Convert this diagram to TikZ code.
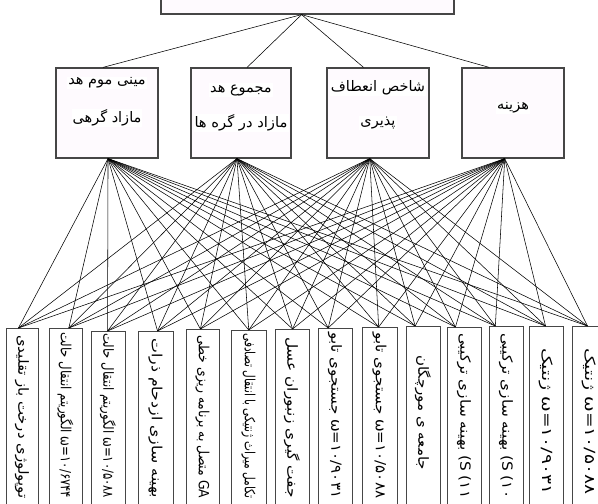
\documentclass[tikz,border=0pt]{standalone}
\usepackage{fontspec}
\usepackage{graphicx}
\newfontfamily\arabicfont[Script=Arabic]{DejaVu Sans}
\TeXXeTstate=1
\usetikzlibrary{calc}
\definecolor{boxgray}{RGB}{70,70,70}
\definecolor{boxfill}{RGB}{254,250,254}
\newcommand\spanto[2]{\resizebox{#1}{\height}{#2}}
\begin{document}
\begin{tikzpicture}[x=1pt,y=-1pt,
  box/.style={draw=boxgray, line width=1.2pt, fill=boxfill, inner sep=0pt},
  lowbox/.style={draw=boxgray, line width=1.2pt, fill=white, inner sep=0pt},
  midtxt/.style={inner sep=1pt, fill=white, font=\arabicfont\fontsize{14.5}{16}\selectfont},
  lowtxt/.style={inner sep=0pt, rotate=-90, anchor=west, font=\arabicfont\fontsize{14}{16}\selectfont},
  conn/.style={line width=0.55pt, black}]
\useasboundingbox (0,0) rectangle (598,504);
\clip (0,0) rectangle (598,504);
% top box
\node[box, minimum width=293pt, minimum height=40pt] (T) at (307.5,-6) {};
% middle boxes
\node[box, minimum width=102pt, minimum height=90pt] (A) at (107,113) {};
\node[box, minimum width=100pt, minimum height=90pt] (B) at (241,113) {};
\node[box, minimum width=102pt, minimum height=90pt] (C) at (378,113) {};
\node[box, minimum width=102pt, minimum height=90pt] (D) at (513,113) {};
\node[midtxt] (A1) at (107,83) {\beginR مینی موم هد\endR};
\node[midtxt] (A2) at (107,118) {\beginR مازاد گرهی\endR};
\node[midtxt] (B1) at (241,90) {\beginR مجموع هد\endR};
\node[midtxt] (B2) at (241,123) {\spanto{93pt}{\beginR مازاد در گره ها\endR}};
\node[midtxt] (C1) at (378,88) {\beginR شاخص انعطاف\endR};
\node[midtxt] (C2) at (378,123) {\beginR پذیری\endR};
\node[midtxt] (D1) at (513,108) {\beginR هزینه\endR};
% top connectors
\coordinate (apex) at ($(T.south west)!0.48!(T.south east)$);
\draw[conn] (apex) -- ($(A.north west)!0.46!(A.north east)$);
\draw[conn] (apex) -- ($(B.north west)!0.56!(B.north east)$);
\draw[conn] (apex) -- ($(C.north west)!0.36!(C.north east)$);
\draw[conn] (apex) -- ($(D.north west)!0.27!(D.north east)$);
% bottom boxes
\foreach \i/\l/\r/\t/\f in {1/6/38/328/0.375, 2/49/82/328/0.58, 3/91/125/331/0.47,
  4/138/173/331/0.54, 5/186/219/329/0.42, 6/231/266/330/0.49, 7/275/309/329/0.5,
  8/318/352/328/0.29, 9/362/397/327/0.46, 10/406/440/326/0.26, 11/447/481/327/0.24,
  12/489/523/326/0.18, 13/529/563/326/0.47, 14/572/606/326/0.44} {
  \pgfmathsetmacro{\w}{\r-\l}
  \node[lowbox, minimum width=\w pt, minimum height=220pt, anchor=north west] (L\i) at (\l,\t) {};
  \coordinate (b\i) at ($(L\i.north west)!\f!(L\i.north east)$);
}
% lower connectors
\foreach \m/\fm in {A/0.51, B/0.46, C/0.42, D/0.42} {
  \coordinate (s\m) at ($(\m.south west)!\fm!(\m.south east)$);
  \foreach \i in {1,...,14} {
    \draw[conn] (s\m) -- (b\i);
  }
}
% bottom texts
\node[lowtxt] (t1) at (22,335) {\spanto{163pt}{\beginR توپولوژی درخت باز تقلیدی\endR}};
\node[lowtxt] (t2) at (65.5,332) {\spanto{166pt}{\beginR\beginL ω=۱۰/۶۷۴۴\endL{} الگوریتم انتقال حالت\endR}};
\node[lowtxt] (t3) at (108,333) {\spanto{165pt}{\beginR\beginL ω=۱۰/۵۰۸۸\endL{} الگوریتم انتقال حالت\endR}};
\node[lowtxt] (t4) at (155.5,338) {\spanto{160pt}{\beginR بهینه سازی ازدحام ذرات\endR}};
\node[lowtxt] (t5) at (202.5,335) {\spanto{163pt}{\beginR\beginL GA\endL{} متصل به برنامه ریزی خطی\endR}};
\node[lowtxt] (t6) at (248.5,333) {\spanto{165pt}{\beginR تکامل میراث ژنتیکی با انتقال تصادفی\endR}};
\node[lowtxt] (t7) at (292,337) {\spanto{161pt}{\beginR جفت گیری زنبوران عسل\endR}};
\node[lowtxt] (t8) at (335,332) {\spanto{166pt}{\beginR\beginL ω=۱۰/۹۰۳۱\endL{} جستجوی تابو\endR}};
\node[lowtxt] (t9) at (379.5,332) {\spanto{166pt}{\beginR\beginL ω=۱۰/۵۰۸۸\endL{} جستجوی تابو\endR}};
\node[lowtxt] (t10) at (423,355) {\spanto{115pt}{\beginR جامعه ی مورچگان\endR}};
\node[lowtxt] (t11) at (464,333) {\spanto{165pt}{\beginR\beginL (S ۱۱)\endL{} بهینه سازی ترکیبی\endR}};
\node[lowtxt] (t12) at (506,333) {\spanto{165pt}{\beginR\beginL (S ۱۰)\endL{} بهینه سازی ترکیبی\endR}};
\node[lowtxt] (t13) at (546,348) {\spanto{146pt}{\beginR\beginL ω=۱۰/۹۰۳۱\endL{} ژنتیک\endR}};
\node[lowtxt] (t14) at (589,348) {\spanto{146pt}{\beginR\beginL ω=۱۰/۵۰۸۸\endL{} ژنتیک\endR}};
\end{tikzpicture}
\end{document}
